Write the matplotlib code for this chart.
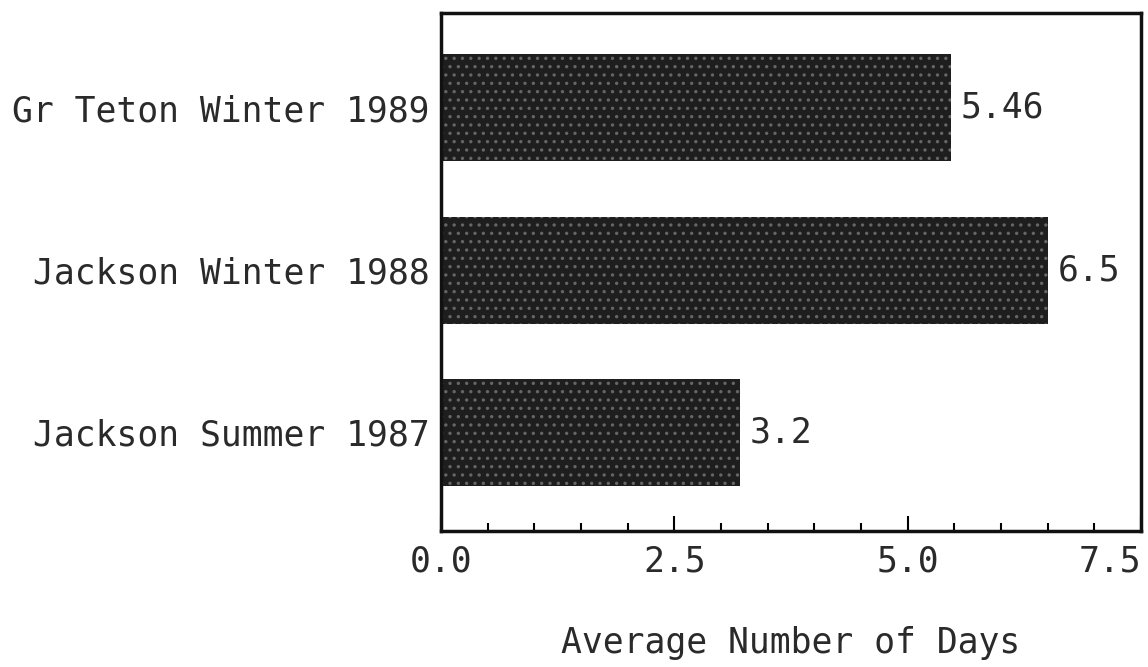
import matplotlib
matplotlib.use("Agg")
import matplotlib.pyplot as plt
from matplotlib.ticker import MultipleLocator

categories = ['Gr Teton Winter 1989', 'Jackson Winter 1988', 'Jackson Summer 1987']
values = [5.46, 6.5, 3.2]
xticks = [0.0, 2.5, 5.0, 7.5]
xtick_labels = ['0.0', '2.5', '5.0', '7.5']

plt.rcParams['font.family'] = ['DejaVu Sans Mono']
plt.rcParams['hatch.linewidth'] = 1.2

fig = plt.figure(figsize=(11.48, 6.67), dpi=100)
ax = fig.add_axes([0.3841, 0.2039, 0.6098, 0.7766])

ypos = list(range(len(categories)))
ax.barh(ypos, values, height=0.66, color='#1e1e1e', edgecolor='#666666',
        linewidth=0, hatch='..')

for y, v in zip(ypos, values):
    ax.annotate(str(v), (v, y), xytext=(10, 0), textcoords='offset pixels',
                ha='left', va='center', fontsize=25, color='#2a2a2a')

ax.set_xlim(0, 7.5)
ax.set_ylim(2.61, -0.586)

ax.set_yticks(ypos)
ax.set_yticklabels(categories, fontsize=25, color='#2a2a2a')
ax.tick_params(axis='y', length=0, pad=8)

ax.set_xticks(xticks)
labels = ax.set_xticklabels(xtick_labels, fontsize=25, color='#2a2a2a')
labels[-1].set_horizontalalignment('right')
ax.xaxis.set_minor_locator(MultipleLocator(0.5))
ax.tick_params(axis='x', which='major', direction='in', length=11, width=1.5, pad=10)
ax.tick_params(axis='x', which='minor', direction='in', length=6, width=1.5)

for s in ax.spines.values():
    s.set_linewidth(2.5)
    s.set_color('#111111')

ax.set_xlabel('Average Number of Days', fontsize=25, color='#2a2a2a', labelpad=34)

fig.savefig('out.png', dpi=100)
